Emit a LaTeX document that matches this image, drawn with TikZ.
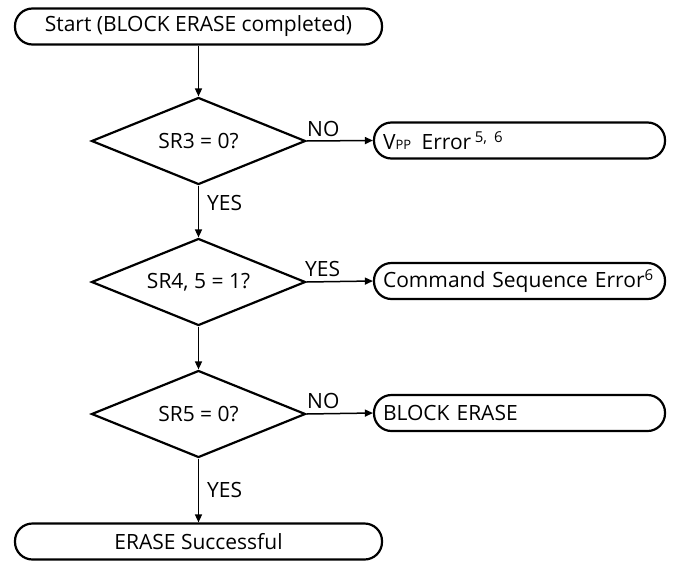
\documentclass[tikz,border=0pt]{standalone}
\usepackage{fontspec}
\setmainfont{Open Sans}
\usetikzlibrary{shapes.geometric,arrows.meta}
\begin{document}
\begin{tikzpicture}[x=1pt,y=-1pt,
  font=\fontsize{21}{24}\selectfont,
  term/.style={draw,line width=2.2pt,rounded corners=17.5pt,minimum height=36pt,inner sep=0pt},
  side/.style={draw,line width=2.2pt,rounded corners=17.5pt,minimum height=36pt,minimum width=291pt,text width=273pt,align=left,inner sep=0pt},
  dec/.style={draw,line width=2.2pt,diamond,aspect=2.47,minimum width=214pt,minimum height=87pt,inner sep=0pt},
  flow/.style={line width=1.5pt,-{Triangle[length=8pt,width=7pt]}},
  lbl/.style={inner sep=0pt,anchor=west}]
\useasboundingbox (0,0) rectangle (679,562);
\node[term,minimum width=367pt] (start) at (198.5,26.5) {Start (BLOCK ERASE completed)};
\node[dec] (d1) at (198.5,141) {SR3 = 0?};
\node[dec] (d2) at (198.5,282) {SR4, 5 = 1?};
\node[dec] (d3) at (198.5,414) {SR5 = 0?};
\node[side] (vpp) at (519.5,140.5) {V{\fontsize{13}{14}\selectfont PP}\, Error\,\raisebox{7pt}{\fontsize{15}{15}\selectfont 5, 6}};
\node[side] (cse) at (519.5,281) {Command Sequence Error\raisebox{7pt}{\fontsize{15}{15}\selectfont 6}};
\node[side] (be) at (519.5,413) {BLOCK ERASE};
\node[term,minimum width=367pt] (ok) at (198.5,541.5) {ERASE Successful};
\draw[flow] (start) -- (d1);
\draw[flow] (d1) -- (d2);
\draw[flow] (d2) -- (d3);
\draw[flow] (d3) -- (ok);
\draw[flow] (d1.east) -- (vpp.west);
\draw[flow] (d2.east) -- (cse.west);
\draw[flow] (d3.east) -- (be.west);
\node[lbl] (y1) at (207,203) {YES};
\node[lbl] (y3) at (207,490) {YES};
\node[lbl] (n1) at (307,129) {NO};
\node[lbl] (y2) at (305,269) {YES};
\node[lbl] (n3) at (307,401) {NO};
\end{tikzpicture}
\end{document}
